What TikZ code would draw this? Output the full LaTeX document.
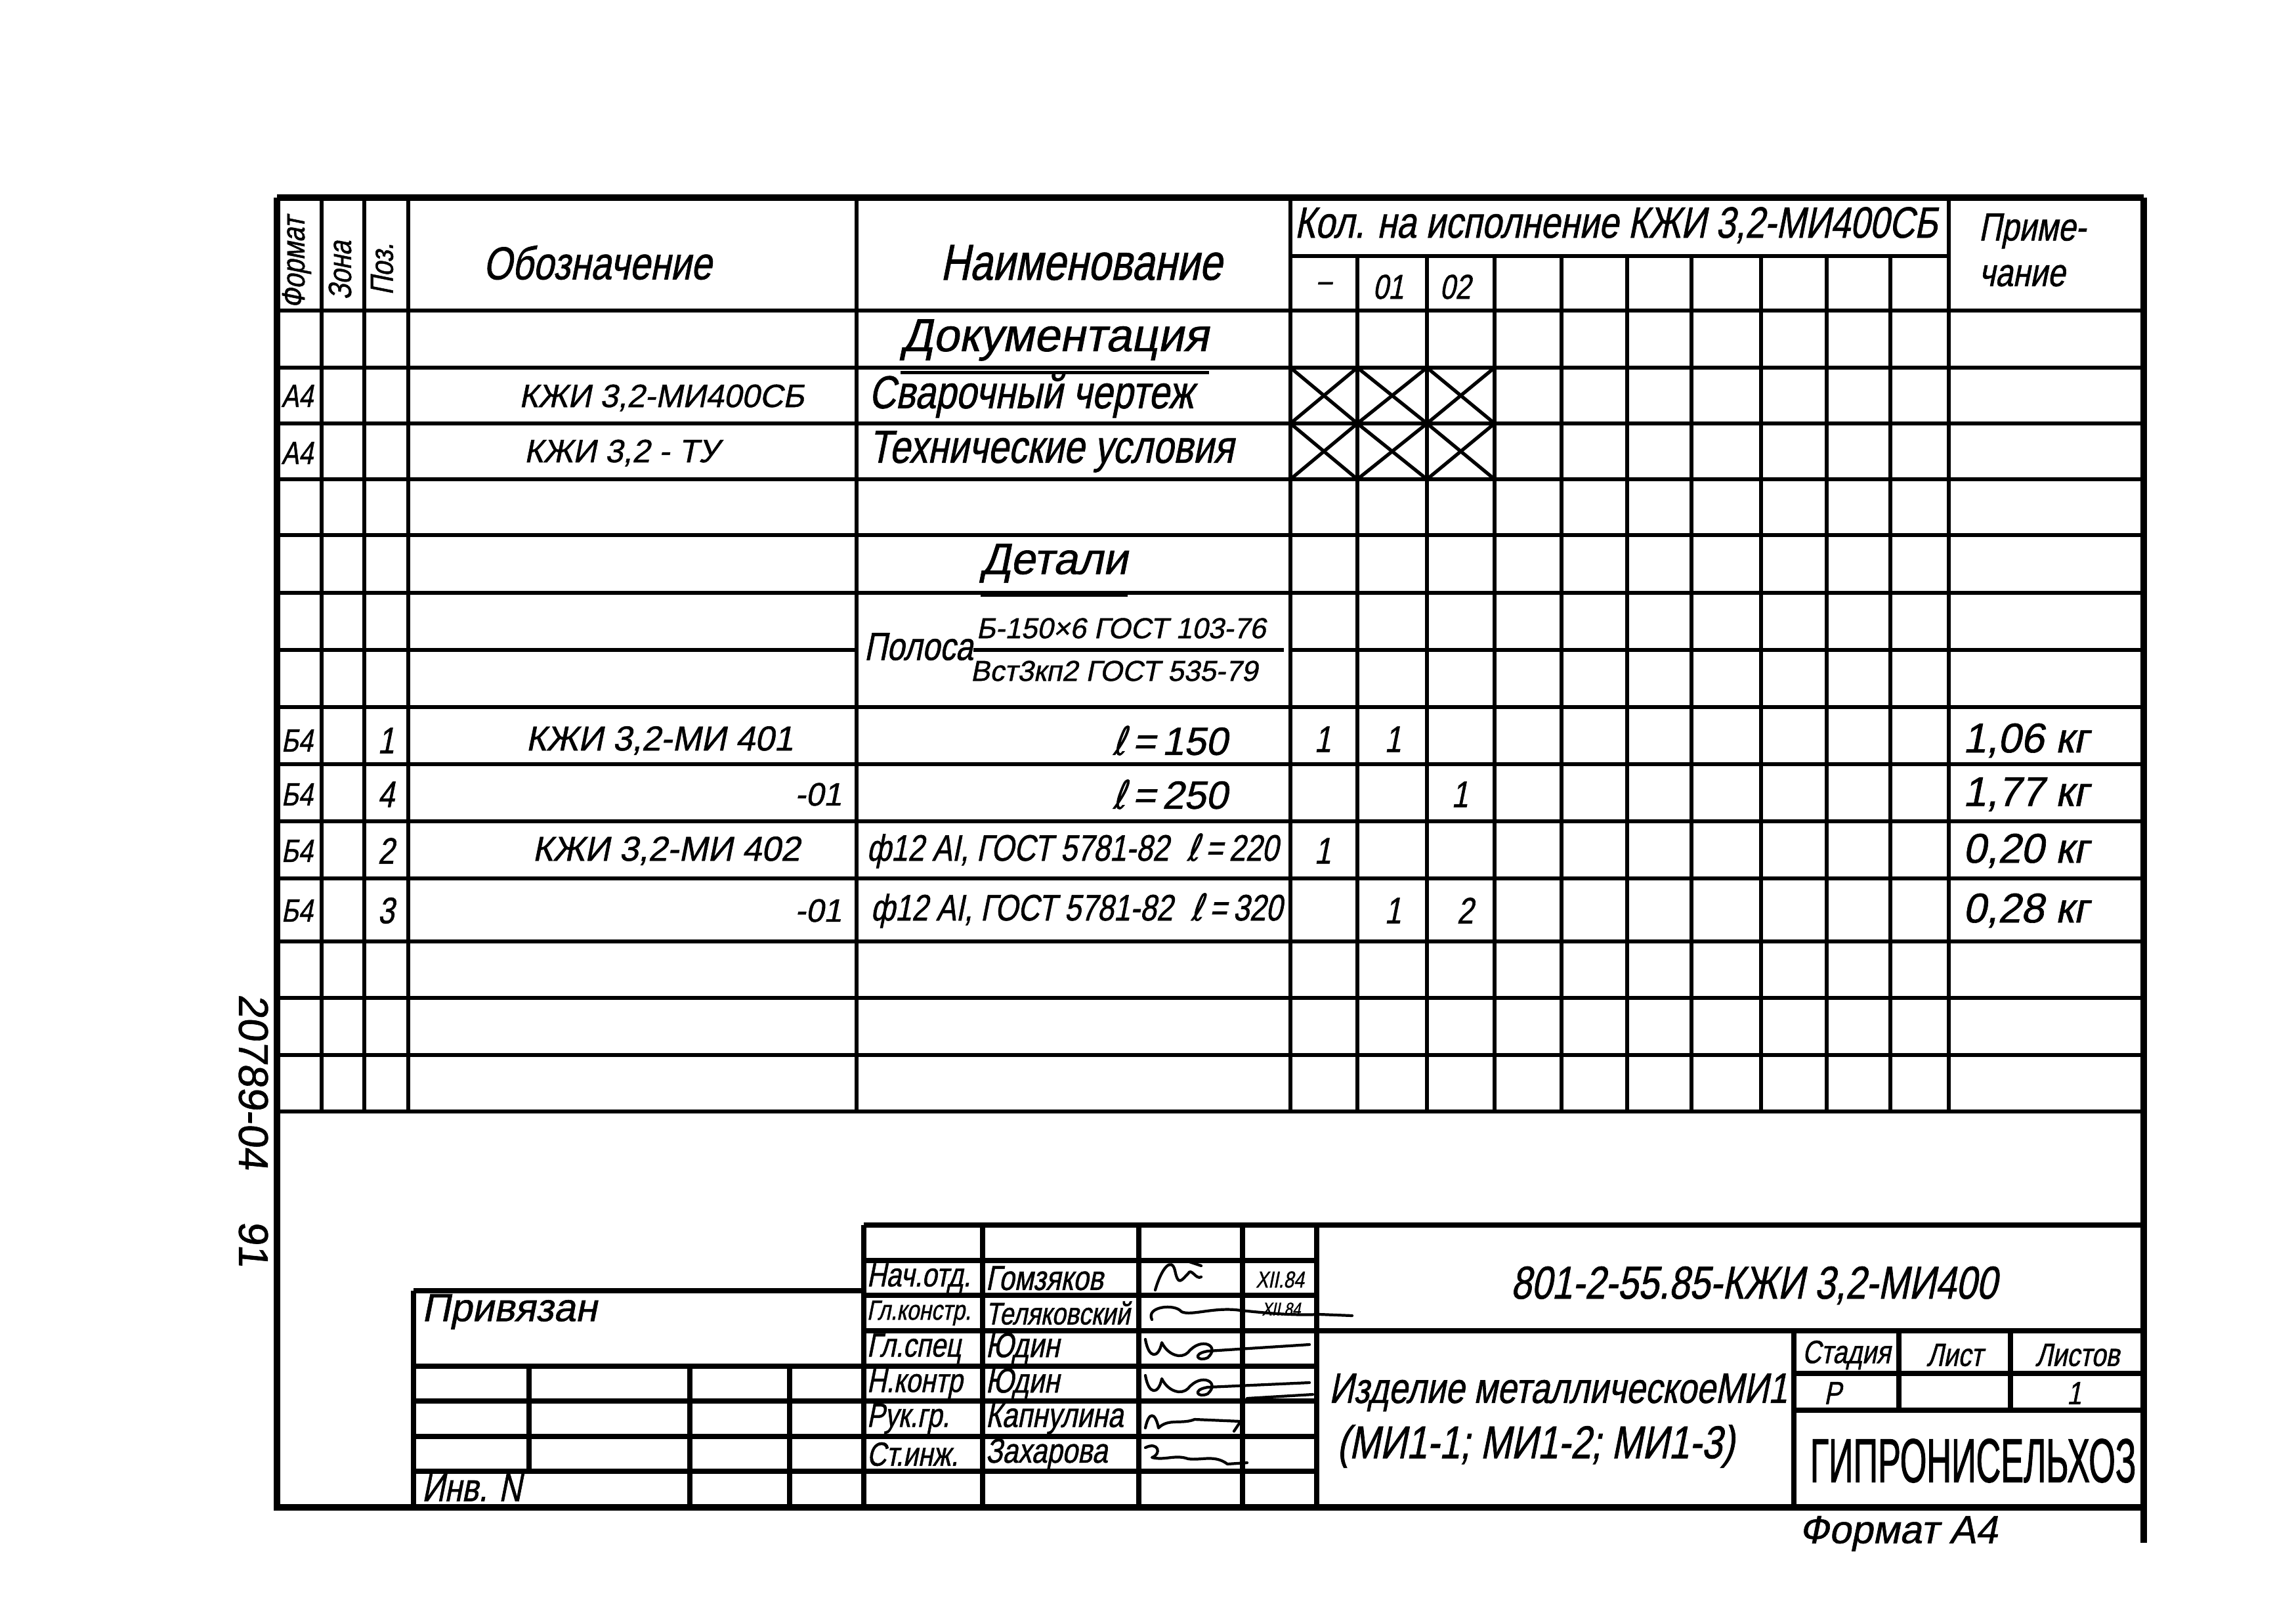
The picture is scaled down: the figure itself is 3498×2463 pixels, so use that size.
\documentclass[tikz,border=0pt]{standalone}
\usepackage{fontspec}
\newfontfamily\gost{Liberation Sans}[FakeSlant=0.2,FakeStretch=0.8,FakeBold=1]
\newfontfamily\gostw{Liberation Sans}[FakeSlant=0.2,FakeStretch=1.0,FakeBold=1]
\newfontfamily\gostup{Liberation Sans}[FakeStretch=0.55,FakeBold=1]
\newfontfamily\handf{Liberation Sans}[FakeSlant=0.1,FakeBold=1]
\newfontfamily\djv{DejaVu Sans}[FakeSlant=0.2,FakeStretch=0.8,FakeBold=1]
\tikzset{
  frame/.style={line width=2.8pt},
  grid/.style={line width=1.5pt},
  tbl/.style={line width=2.2pt},
  pen/.style={line width=1.2pt, line cap=round, line join=round},
  g/.style={inner sep=0pt, font=\gost\fontsize{#1pt}{#1pt}\selectfont},
  gw/.style={inner sep=0pt, anchor=west, font=\gost\fontsize{#1pt}{#1pt}\selectfont},
  ge/.style={inner sep=0pt, anchor=east, font=\gost\fontsize{#1pt}{#1pt}\selectfont},
  w/.style={inner sep=0pt, font=\gostw\fontsize{#1pt}{#1pt}\selectfont},
  ww/.style={inner sep=0pt, anchor=west, font=\gostw\fontsize{#1pt}{#1pt}\selectfont},
  we/.style={inner sep=0pt, anchor=east, font=\gostw\fontsize{#1pt}{#1pt}\selectfont},
}
\newcommand{\lsym}{{\djv ℓ}}
\begin{document}
\begin{tikzpicture}[x=0.1mm,y=-0.1mm]
\useasboundingbox (0,0) rectangle (3498,2463);
\fill[white] (0,0) rectangle (3498,2463);

% ---------- outer frame ----------
\draw[frame] (422,301) -- (3266,301);
\draw[frame] (422,301) -- (422,2296) -- (3266,2296);
\draw[frame] (3266,301) -- (3266,2350);

% ---------- specification table ----------
\foreach \y in {473,560,645,730,815,903,1077,1164,1251,1338,1434,1520,1607,1693}
  \draw[grid] (422,\y) -- (3266,\y);
\draw[grid] (422,990) -- (1305,990);
\draw[grid] (1966,990) -- (3266,990);
\draw[grid] (1966,390) -- (2969,390);
\foreach \x in {490,555,622,1305,1966,2969}
  \draw[grid] (\x,301) -- (\x,1693);
\foreach \x in {2068,2174,2277,2379,2479,2577,2683,2783,2880}
  \draw[grid] (\x,390) -- (\x,1693);
% crossed cells
\foreach \a/\b in {1966/2068,2068/2174,2174/2277}
  \foreach \t/\u in {560/645,645/730}{
    \draw[grid] (\a,\t) -- (\b,\u);
    \draw[grid] (\b,\t) -- (\a,\u);
  }

% ---------- header ----------
\node[g=14, rotate=90] (hFormat) at (452,400) {Формат};
\node[g=14, rotate=90] (hZona) at (518,412) {Зона};
\node[g=14, rotate=90] (hPoz) at (582,410) {Поз.};
\node[g=20] (hOboz) at (910,400) {Обозначение};
\node[g=22] (hNaim) at (1647,400) {Наименование};
\node[g=19] (hKol) at (2462,343) {Кол. на исполнение КЖИ 3,2-МИ400СБ};
\node[g=14] (hV0) at (2017,437) {–};
\node[g=15] (hV1) at (2115,437) {01};
\node[g=15] (hV2) at (2217,437) {02};
\node[gw=17] (hPrim1) at (3014,352) {Приме-};
\node[gw=17] (hPrim2) at (3014,420) {чание};

% ---------- body ----------
\node[w=20] (docu) at (1607,518) {Документация};
\draw[grid] ([yshift=-5pt]docu.south west) -- ([yshift=-5pt]docu.south east);

\node[gw=14] (f1) at (428,603) {А4};
\node[w=14] (o1) at (1008,606) {КЖИ 3,2-МИ400СБ};
\node[gw=20] (n1) at (1323,603) {Сварочный чертеж};

\node[gw=14] (f2) at (428,690) {А4};
\node[ww=14] (o2) at (798,690) {КЖИ 3,2 - ТУ};
\node[gw=20] (n2) at (1323,688) {Технические условия};

\node[w=19] (det) at (1606,858) {Детали};
\draw[grid] ([yshift=-5pt]det.south west) -- ([yshift=-5pt]det.south east);

\node[gw=17] (pol) at (1316,985) {Полоса};
\node[ww=12.5] (polN) at (1487,957) {Б-150×6 ГОСТ 103-76};
\node[ww=12.5] (polD) at (1478,1022) {Вст3кп2 ГОСТ 535-79};
\draw[grid] (pol.east |- 0,990) -- (1956,990);

% row 1
\node[gw=14] (f3) at (428,1128) {Б4};
\node[g=16] (p3) at (588,1128) {1};
\node[w=15] (o3) at (1005,1128) {КЖИ 3,2-МИ 401};
\node[w=17] (n3) at (1783,1128) {\lsym\,=\,150};
\node[g=16] (q3a) at (2015,1126) {1};
\node[g=16] (q3b) at (2122,1126) {1};
\node[ww=18] (m3) at (2990,1128) {1,06 кг};
% row 4
\node[gw=14] (f4) at (428,1210) {Б4};
\node[g=16] (p4) at (588,1210) {4};
\node[we=14] (o4) at (1283,1210) {-01};
\node[w=17] (n4) at (1783,1210) {\lsym\,=\,250};
\node[g=16] (q4c) at (2224,1210) {1};
\node[ww=18] (m4) at (2990,1210) {1,77 кг};
% row 2
\node[gw=14] (f5) at (428,1296) {Б4};
\node[g=16] (p5) at (588,1296) {2};
\node[w=15] (o5) at (1015,1296) {КЖИ 3,2-МИ 402};
\node[gw=16] (n5) at (1320,1296) {ф12 АI, ГОСТ 5781-82\hspace{0.5em}\lsym\,=\,220};
\node[g=16] (q5a) at (2015,1296) {1};
\node[ww=18] (m5) at (2990,1296) {0,20 кг};
% row 3
\node[gw=14] (f6) at (428,1387) {Б4};
\node[g=16] (p6) at (588,1387) {3};
\node[we=14] (o6) at (1283,1387) {-01};
\node[gw=16] (n6) at (1326,1387) {ф12 АI, ГОСТ 5781-82\hspace{0.5em}\lsym\,=\,320};
\node[g=16] (q6b) at (2122,1387) {1};
\node[g=16] (q6c) at (2232,1387) {2};
\node[ww=18] (m6) at (2990,1387) {0,28 кг};

% ---------- margin note ----------
\node[inner sep=0pt, rotate=-90, font=\handf\fontsize{18pt}{18pt}\selectfont] (arch1) at (386,1648) {20789-04};
\node[inner sep=0pt, rotate=-90, font=\handf\fontsize{18pt}{18pt}\selectfont] (arch2) at (386,1895) {91};

% ---------- title block ----------
\draw[tbl] (1316,1866) -- (3266,1866);
\foreach \x in {1316,1497,1735,1893,2006}
  \draw[tbl] (\x,1866) -- (\x,2296);
\foreach \y in {1920,1973,2027,2081,2134,2188,2241}
  \draw[tbl] (1316,\y) -- (2006,\y);
\draw[tbl] (2006,2027) -- (3266,2027);
\draw[tbl] (2733,2027) -- (2733,2296);
\draw[tbl] (2733,2092) -- (3266,2092);
\draw[tbl] (2733,2148) -- (3266,2148);
\draw[tbl] (2893,2027) -- (2893,2148);
\draw[tbl] (3063,2027) -- (3063,2148);

% binding box
\draw[tbl] (630,1966) -- (1316,1966);
\draw[tbl] (630,1966) -- (630,2296);
\foreach \y in {2081,2134,2188,2241}
  \draw[tbl] (630,\y) -- (1316,\y);
\draw[tbl] (806,2081) -- (806,2241);
\draw[tbl] (1051,2081) -- (1051,2296);
\draw[tbl] (1203,2081) -- (1203,2296);
\node[ww=17] (priv) at (642,1998) {Привязан};
\node[gw=17] (inv) at (642,2266) {Инв. N};

% people
\node[gw=14.5] (rolea) at (1320,1947) {Нач.отд.};
\node[gw=12] (roleb) at (1320,2000) {Гл.констр.};
\node[gw=14.5] (rolec) at (1320,2054) {Гл.спец};
\node[gw=14.5] (roled) at (1320,2108) {Н.контр};
\node[gw=14.5] (rolee) at (1320,2161) {Рук.гр.};
\node[gw=14.5] (rolef) at (1320,2215) {Ст.инж.};
\node[gw=15] (namea) at (1501,1947) {Гомзяков};
\node[gw=13.5] (nameb) at (1501,2000) {Теляковский};
\node[gw=15] (namec) at (1501,2054) {Юдин};
\node[gw=15] (named) at (1501,2108) {Юдин};
\node[gw=15] (namee) at (1501,2161) {Капнулина};
\node[gw=15] (namef) at (1501,2215) {Захарова};
\node[g=10] (date1) at (1950,1949) {XII.84};
\node[g=8] (date2) at (1952,1994) {XII.84};

% signatures
\draw[pen] (1760,1965) .. controls (1770,1930) and (1785,1915) .. (1790,1935) .. controls (1795,1960) and (1800,1950) .. (1810,1940) .. controls (1815,1930) and (1822,1950) .. (1830,1945);
\draw[pen] (1812,1922) -- (1830,1928);
\draw[pen] (1755,2010) .. controls (1745,1990) and (1790,1985) .. (1800,1998) .. controls (1815,2005) and (1850,1990) .. (1890,1996) .. controls (1930,2000) and (1970,2004) .. (2010,2002) -- (2060,2004);
\draw[pen] (1745,2040) .. controls (1750,2070) and (1765,2070) .. (1770,2045) .. controls (1780,2065) and (1800,2070) .. (1810,2060) .. controls (1830,2035) and (1860,2050) .. (1840,2068) .. controls (1825,2075) and (1815,2062) .. (1840,2058) -- (1995,2048);
\draw[pen] (1745,2095) .. controls (1750,2125) and (1765,2125) .. (1770,2100) .. controls (1780,2120) and (1800,2125) .. (1810,2115) .. controls (1830,2090) and (1860,2105) .. (1840,2123) .. controls (1825,2130) and (1815,2117) .. (1840,2113) -- (1995,2106);
\draw[pen] (1900,2130) -- (2000,2124);
\draw[pen] (1745,2175) .. controls (1750,2150) and (1760,2150) .. (1765,2175) .. controls (1780,2160) and (1800,2170) .. (1820,2162) -- (1890,2165) -- (1880,2180);
\draw[pen] (1745,2205) .. controls (1765,2195) and (1770,2215) .. (1755,2220) .. controls (1775,2225) and (1790,2215) .. (1810,2222) .. controls (1830,2225) and (1850,2215) .. (1870,2230) -- (1900,2228);

% designation etc.
\node[g=20] (desig) at (2672,1958) {801-2-55.85-КЖИ 3,2-МИ400};
\node[gw=18.5] (izd1) at (2024,2121) {Изделие металлическоеМИ1};
\node[gw=20] (izd2) at (2036,2203) {(МИ1-1; МИ1-2; МИ1-3)};
\node[g=14] (stg) at (2813,2064) {Стадия};
\node[g=14] (lst) at (2978,2064) {Лист};
\node[g=14] (lsts) at (3165,2064) {Листов};
\node[g=14] (stgv) at (2792,2122) {Р};
\node[g=14] (lstsv) at (3160,2122) {1};
\node[inner sep=0pt, font=\gostup\fontsize{27pt}{27pt}\selectfont] (org) at (3006,2225) {ГИПРОНИСЕЛЬХОЗ};
\node[w=17] (fmt) at (2892,2336) {Формат А4};
\end{tikzpicture}
\end{document}
